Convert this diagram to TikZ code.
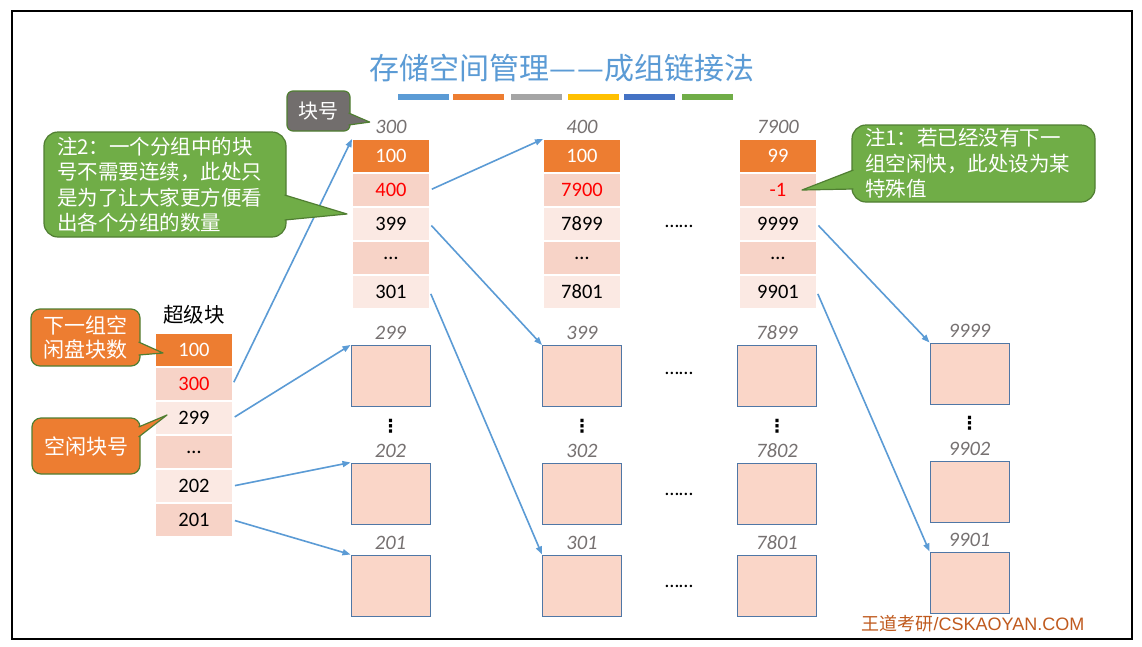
\documentclass[tikz,border=0pt]{standalone}
\usepackage{fontspec}
\setmainfont{Carlito}
\newfontfamily\cjk{Noto Sans CJK SC}
\newfontfamily\arialfont{Liberation Sans}
\newfontfamily\symfont{DejaVu Sans}
\usepackage{xcolor}
\usepackage{tikz}
\usetikzlibrary{arrows.meta,positioning,calc}

\definecolor{titleblue}{HTML}{5B9BD5}
\definecolor{hdorange}{HTML}{ED7D31}
\definecolor{bargray}{HTML}{A5A5A5}
\definecolor{bargold}{HTML}{FFC000}
\definecolor{barblue}{HTML}{4472C4}
\definecolor{banddark}{HTML}{F7D3C7}
\definecolor{bandlight}{HTML}{FBE9E3}
\definecolor{blkfill}{HTML}{FAD6C8}
\definecolor{blkborder}{HTML}{4F77A6}
\definecolor{labgray}{HTML}{767171}
\definecolor{notegreen}{HTML}{70AD47}
\definecolor{calloutline}{HTML}{507E32}
\definecolor{tagGray}{HTML}{726E6D}
\definecolor{arrblue}{HTML}{5B9BD5}
\definecolor{markbrown}{HTML}{C05A1E}

\begin{document}
\begin{tikzpicture}[
  x=1pt, y=-1pt,
  >={Triangle[length=8pt,width=6pt]},
  label distance=4pt,
  cell/.style={draw=white, line width=1.5pt, outer sep=0pt, inner sep=0pt,
    minimum width=78pt, minimum height=34pt, font=\fontsize{20.5}{24}\selectfont},
  headcell/.style={cell, fill=hdorange, text=white},
  darkcell/.style={cell, fill=banddark},
  lightcell/.style={cell, fill=bandlight},
  datablk/.style={draw=blkborder, fill=blkfill, line width=1pt, inner sep=0pt,
    minimum width=79pt, minimum height=61pt},
  numlab/.style={font=\itshape\fontsize{20.5}{24}\selectfont, text=labgray, inner sep=1pt},
  vdotsmark/.style={font=\symfont\bfseries\fontsize{18}{18}\selectfont, inner sep=0pt},
  hdotsmark/.style={font=\fontsize{20}{24}\selectfont, inner sep=0pt},
  note/.style={fill=notegreen, draw=calloutline, line width=1.2pt, rounded corners=14pt,
    text=white, align=left, inner xsep=13pt, inner ysep=0pt,
    font=\cjk\fontsize{20.5}{25.5}\selectfont},
  tagbox/.style={fill=hdorange, draw=calloutline, line width=1.2pt, rounded corners=9pt,
    text=white, align=center, inner sep=0pt, font=\cjk\fontsize{21}{24}\selectfont},
  greentail/.style={fill=notegreen, draw=calloutline, line width=1.2pt, line join=round},
  orangetail/.style={fill=hdorange, draw=calloutline, line width=1.2pt, line join=round},
  graytail/.style={fill=tagGray, draw=calloutline, line width=1.2pt, line join=round},
  arr/.style={->, draw=arrblue, line width=1.6pt, shorten <=2pt},
]
\useasboundingbox (0,0) rectangle (1142,646);
\fill[white] (0,0) rectangle (1142,646);
\draw[line width=2pt] (12,11) rectangle (1132,639);

% Title and colour bars
\node[font=\cjk\fontsize{30}{36}\selectfont, text=titleblue] (title) at (562,68) {存储空间管理—\kern2pt—成组链接法};
\fill[titleblue] (398,94) rectangle (449,100);
\fill[hdorange] (453,94) rectangle (504,100);
\fill[bargray] (511,94) rectangle (562,100);
\fill[bargold] (568,94) rectangle (619,100);
\fill[barblue] (624,94) rectangle (675,100);
\fill[notegreen] (682,94) rectangle (733,100);

% Super block
\node[headcell] (s0) at (194,350) {100};
\node[darkcell, below=0pt of s0, text=red] (s1) {300};
\node[lightcell, below=0pt of s1] (s2) {299};
\node[darkcell, below=0pt of s2] (s3) {…};
\node[lightcell, below=0pt of s3] (s4) {202};
\node[darkcell, below=0pt of s4] (s5) {201};
\node[above=5pt of s0, font=\cjk\fontsize{20.5}{24}\selectfont] (sbtitle) {超级块};

% Group blocks
\node[headcell, label={[numlab,name=la0]above:300}] (a0) at (391,156) {100};
\node[darkcell, below=0pt of a0, text=red] (a1) {400};
\node[lightcell, below=0pt of a1] (a2) {399};
\node[darkcell, below=0pt of a2] (a3) {…};
\node[lightcell, below=0pt of a3] (a4) {301};

\node[headcell, label={[numlab]above:400}] (b0) at (582,156) {100};
\node[darkcell, below=0pt of b0, text=red] (b1) {7900};
\node[lightcell, below=0pt of b1] (b2) {7899};
\node[darkcell, below=0pt of b2] (b3) {…};
\node[lightcell, below=0pt of b3] (b4) {7801};

\node[headcell, label={[numlab]above:7900}] (c0) at (778,156) {99};
\node[darkcell, below=0pt of c0, text=red] (c1) {-1};
\node[lightcell, below=0pt of c1] (c2) {9999};
\node[darkcell, below=0pt of c2] (c3) {…};
\node[lightcell, below=0pt of c3] (c4) {9901};

% Free data blocks
\node[datablk, label={[numlab]above:299}] (da1) at (390.5,376) {};
\node[datablk, label={[numlab]above:202}] (da2) at (390.5,493.5) {};
\node[datablk, label={[numlab]above:201}] (da3) at (390.5,585.5) {};
\node[datablk, label={[numlab]above:399}] (db1) at (582,376) {};
\node[datablk, label={[numlab]above:302}] (db2) at (582,493.5) {};
\node[datablk, label={[numlab]above:301}] (db3) at (582,585.5) {};
\node[datablk, label={[numlab]above:7899}] (dc1) at (777,376) {};
\node[datablk, label={[numlab]above:7802}] (dc2) at (777,493.5) {};
\node[datablk, label={[numlab]above:7801}] (dc3) at (777,585.5) {};
\node[datablk, label={[numlab]above:9999}] (dd1) at (969.5,373.5) {};
\node[datablk, label={[numlab]above:9902}] (dd2) at (969.5,491.5) {};
\node[datablk, label={[numlab]above:9901}] (dd3) at (969.5,582.5) {};

% Dots
\node[vdotsmark] (va) at (390.5,426) {⋮};
\node[vdotsmark] (vb) at (582,426) {⋮};
\node[vdotsmark] (vc) at (777,426) {⋮};
\node[vdotsmark] (vd) at (969.5,423) {⋮};
\node[hdotsmark] (h1) at (679,226) {……};
\node[hdotsmark] (h2) at (679,373) {……};
\node[hdotsmark] (h3) at (679,494) {……};
\node[hdotsmark] (h4) at (679,586) {……};

% Arrows
\draw[arr] (s1.east) -- (a0.north west);
\draw[arr] (s2.east) -- (da1.north west);
\draw[arr] (s4.east) -- (da2.north west);
\draw[arr] (s5.east) -- (da3.north west);
\draw[arr] (a1.east) -- (b0.north west);
\draw[arr] (a2.east) -- (db1.north west);
\draw[arr] (a4.east) -- (db3.north west);
\draw[arr] (c2.east) -- (dd1.north west);
\draw[arr] (c4.east) -- (dd3.north west);

% Callouts
\node[note, text width=216pt, minimum height=105pt] (note2) at (165,184.5)
  {注2：一个分组中的块\\号不需要连续，此处只\\是为了让大家更方便看\\出各个分组的数量};
\node[note, text width=217pt, minimum height=77pt] (note1) at (973.5,163.5)
  {注1：若已经没有下一\\组空闲快，此处设为某\\特殊值};
\node[tagbox, minimum width=109pt, minimum height=57pt] (nextcnt) at (85.5,337.5) {下一组空\\闲盘块数};
\node[tagbox, minimum width=108pt, minimum height=56pt] (freeno) at (86,446) {空闲块号};
\node[tagbox, fill=tagGray, rounded corners=6pt, minimum width=63pt, minimum height=40pt,
  font=\cjk\fontsize{20}{24}\selectfont] (blkno) at (318.5,111) {块号};

\coordinate (tip2) at ($(a2.west)+(-5,-10)$);
\coordinate (tip1) at ($(c1.center)+(24,0)$);
\coordinate (tipcnt) at ($(s0.west)+(8,3)$);
\coordinate (tipfree) at ($(s2.west)+(12,-3)$);
\coordinate (tipno) at ($(la0.west)+(-4.5,-5)$);
\path[greentail] ($(note2.east)+(-2,10.5)$) -- (tip2) -- ($(note2.east)+(-2,35.5)$);
\path[greentail] ($(note1.west)+(2,6.5)$) -- (tip1) -- ($(note1.west)+(2,25.5)$);
\path[orangetail] ($(nextcnt.east)+(-2,4.5)$) -- (tipcnt) -- ($(nextcnt.east)+(-2,17.5)$);
\path[orangetail] ($(freeno.east)+(-2,-19)$) -- (tipfree) -- ($(freeno.east)+(-2,-9)$);
\path[graytail] ($(blkno.east)+(-2,2)$) -- (tipno) -- ($(blkno.east)+(-2,14)$);

% Watermark
\node[font=\arialfont\fontsize{18}{22}\selectfont, text=markbrown] (mark) at (973,624) {{\cjk 王道考研}/CSKAOYAN.COM};
\end{tikzpicture}
\end{document}
